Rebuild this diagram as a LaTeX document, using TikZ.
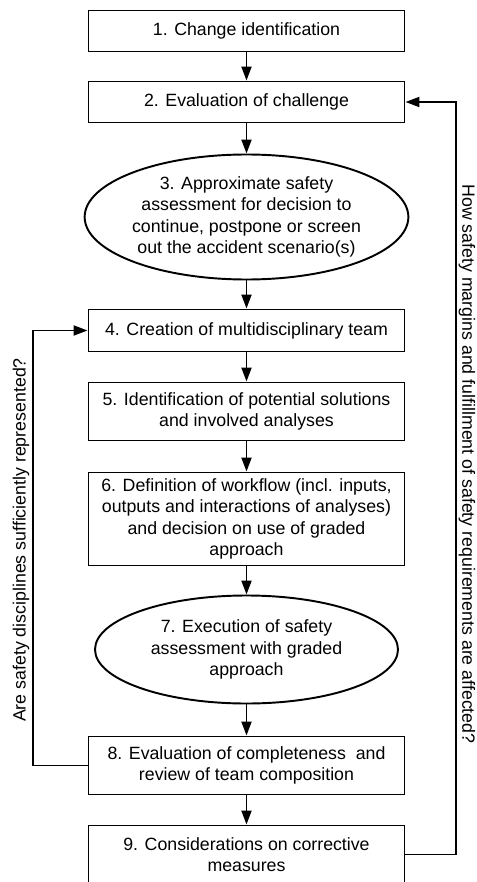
\documentclass[tikz,border=0pt]{standalone}
\usepackage{fontspec}
\setmainfont{Liberation Sans}
\usetikzlibrary{shapes.geometric,arrows.meta}

\begin{document}
\begin{tikzpicture}[
  line width=1.1pt,
  txt/.style={font=\fontsize{10.1}{12.1}\selectfont},
  stepbox/.style={txt, draw, rectangle, minimum width=6.32cm, inner sep=0pt, align=center},
  stepoval/.style={txt, draw, ellipse, inner sep=0pt, align=center},
  flow/.style={-{Triangle[length=0.28cm,width=0.2cm]}},
  note/.style={txt, inner sep=0pt}
]
  \useasboundingbox (0,0) rectangle (9.52,-17.64);
  \node[stepbox, minimum height=0.82cm] (s1) at (4.93,-0.62) {1. Change identification};
  \node[stepbox, minimum height=0.82cm] (s2) at (4.93,-2.04) {2. Evaluation of challenge};
  \node[stepoval, minimum width=6.04cm, minimum height=2.50cm] (s3) at (4.93,-4.34)
    {3. Approximate safety\\ assessment for decision to\\ continue, postpone or screen\\ out the accident scenario(s)};
  \node[stepbox, minimum height=0.84cm] (s4) at (4.93,-6.61) {4. Creation of multidisciplinary team};
  \node[stepbox, minimum height=1.16cm] (s5) at (4.93,-8.23)
    {5. Identification of potential solutions\\ and involved analyses};
  \node[stepbox, minimum height=1.86cm] (s6) at (4.93,-10.38)
    {6. Definition of workflow (incl. inputs,\\ outputs and interactions of analyses)\\ and decision on use of graded\\ approach};
  \node[stepoval, minimum width=6.06cm, minimum height=2.16cm] (s7) at (4.93,-12.99)
    {7. Execution of safety\\ assessment with graded\\ approach};
  \node[stepbox, minimum height=1.16cm] (s8) at (4.93,-15.31)
    {8. Evaluation of completeness\ \ and\\ review of team composition};
  \node[stepbox, minimum height=1.16cm] (s9) at (4.93,-17.09)
    {9. Considerations on corrective\\ measures};

  % main flow
  \draw[flow] (s1) -- (s2);
  \draw[flow] (s2) -- (s3);
  \draw[flow] (s3) -- (s4);
  \draw[flow] (s4) -- (s5);
  \draw[flow] (s5) -- (s6);
  \draw[flow] (s6) -- (s7);
  \draw[flow] (s7) -- (s8);
  \draw[flow] (s8) -- (s9);

  % feedback loops
  \coordinate (lft) at (0.66,0);
  \coordinate (rgt) at (9.12,0);
  \draw[flow] (s8.west) -- (s8.west -| lft) -- (s4.west -| lft) -- (s4.west);
  \draw[flow] (s9.east) -- (s9.east -| rgt) -- (s2.east -| rgt) -- (s2.east);
  \node[note, rotate=90] (qleft) at (0.42,-10.80) {Are safety disciplines sufficiently represented?};
  \node[note, rotate=-90] (qright) at (9.34,-9.28) {How safety margins and fulfillment of safety requirements are affected?};
\end{tikzpicture}
\end{document}
